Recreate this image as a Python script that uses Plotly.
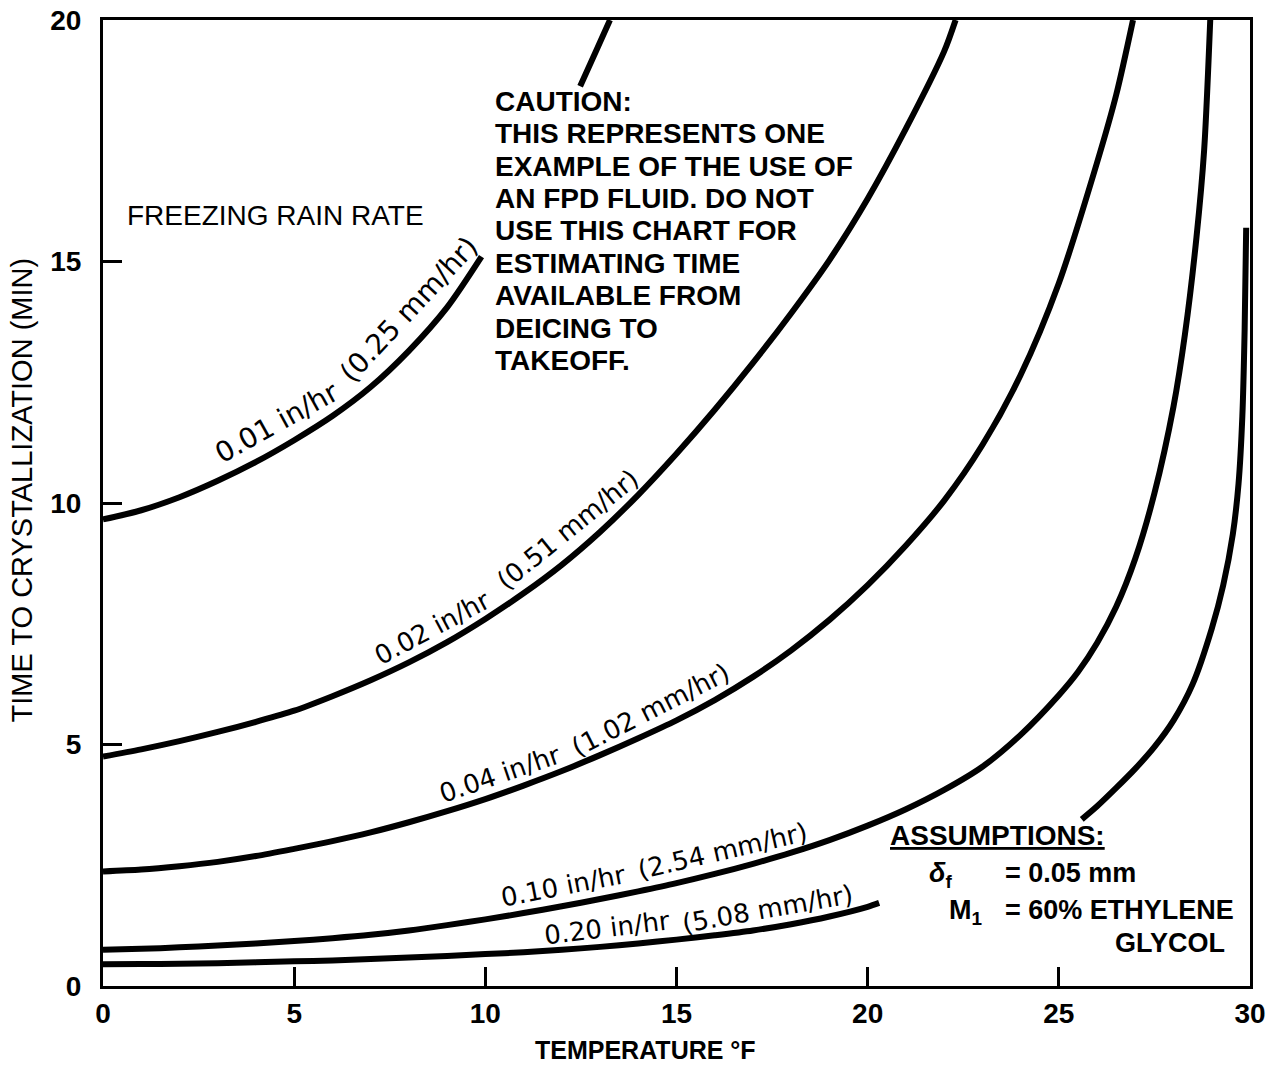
import plotly.graph_objects as go

# ---- data ----
# Temperature (°F) vs time to crystallization (min); None marks where the
# printed curve is interrupted by a text block.
temp_001 = [0, 1, 2, 3, 4, 5, 6, 7, 8, 9, 9.9, None, 12.48, 12.92, 13.26]
time_001 = [9.66, 9.85, 10.12, 10.46, 10.85, 11.3, 11.8, 12.4, 13.15, 14.05, 15.1, None, 18.63, 19.4, 20.0]

temp_002 = [0, 1, 2, 3, 4, 5, 6, 7, 8, 9, 10, 11, 12, 13, 14, 15, 16, 17, 18, 19, 20, 21, 22, 22.3]
time_002 = [4.75, 4.9, 5.07, 5.26, 5.47, 5.7, 6.0, 6.33, 6.7, 7.12, 7.6, 8.13, 8.72, 9.4, 10.17,
            11.02, 11.93, 12.9, 13.93, 15.03, 16.3, 17.75, 19.35, 20.0]

temp_004 = [0, 1, 2, 3, 4, 5, 6, 7, 8, 9, 10, 11, 12, 13, 14, 15, 16, 17, 18, 19, 20, 21, 22,
            23, 24, 25, 26, 26.5, 26.94]
time_004 = [2.37, 2.41, 2.48, 2.57, 2.69, 2.84, 3.0, 3.18, 3.39, 3.62, 3.87, 4.15, 4.45, 4.78,
            5.13, 5.5, 5.92, 6.4, 6.95, 7.58, 8.3, 9.12, 10.05, 11.2, 12.65, 14.55, 17.05, 18.45, 20.0]

temp_010 = [0, 1, 2, 3, 4, 5, 6, 7, 8, 9, 10, 11, 12, 13, 14, 15, 16, 17, 18, 19, 20, 21, 22,
            23, 24, 25, 25.5, 26, 26.5, 27, 27.5, 28, 28.3, 28.6, 28.8, 28.96]
time_010 = [0.75, 0.77, 0.8, 0.84, 0.88, 0.93, 0.99, 1.06, 1.15, 1.26, 1.38, 1.51, 1.65, 1.8,
            1.96, 2.13, 2.32, 2.53, 2.76, 3.02, 3.32, 3.66, 4.06, 4.54, 5.2, 6.02, 6.5, 7.1,
            7.85, 8.85, 10.2, 12.0, 13.5, 15.5, 17.3, 20.0]

temp_020 = [0, 1, 2, 3, 4, 5, 6, 7, 8, 9, 10, 11, 12, 13, 14, 15, 16, 17, 18, 19, 20, 20.3, None,
            25.6, 26, 26.5, 27, 27.5, 28, 28.5, 29, 29.3, 29.55, 29.7, 29.8, 29.86, 29.9]
time_020 = [0.45, 0.455, 0.46, 0.47, 0.49, 0.51, 0.53, 0.56, 0.59, 0.62, 0.66, 0.7, 0.75, 0.81,
            0.88, 0.96, 1.05, 1.15, 1.28, 1.44, 1.64, 1.72, None,
            3.45, 3.72, 4.1, 4.5, 4.95, 5.5, 6.25, 7.4, 8.3, 9.35, 10.4, 11.8, 13.6, 15.7]

x_ticks = [0, 5, 10, 15, 20, 25, 30]
y_ticks = [0, 5, 10, 15, 20]

curve_label_parts = [
    ("0.01 in/hr", "(0.25 mm/hr)"),
    ("0.02 in/hr", "(0.51 mm/hr)"),
    ("0.04 in/hr", "(1.02 mm/hr)"),
    ("0.10 in/hr", "(2.54 mm/hr)"),
    ("0.20 in/hr", "(5.08 mm/hr)"),
]

caution_lines = [
    "CAUTION:",
    "THIS REPRESENTS ONE",
    "EXAMPLE OF THE USE OF",
    "AN FPD FLUID. DO NOT",
    "USE THIS CHART FOR",
    "ESTIMATING TIME",
    "AVAILABLE FROM",
    "DEICING TO",
    "TAKEOFF.",
]

FONT = "Liberation Sans"
LABEL_FONT = "DejaVu Sans"

fig = go.Figure()
for tx, ty in [(temp_001, time_001), (temp_002, time_002), (temp_004, time_004),
               (temp_010, time_010), (temp_020, time_020)]:
    fig.add_trace(go.Scatter(
        x=tx, y=ty, mode="lines", connectgaps=False,
        line=dict(color="black", width=6, shape="spline", smoothing=0.8),
        showlegend=False, hoverinfo="skip"))

annotations = []

# curve labels: (x, y, angle, size) for each of the two parts
label_pos = [
    [(4.55, 11.66, -29, 28), (8.0, 14.0, -47, 28)],
    [(8.6, 7.42, -28, 26), (12.14, 9.45, -39, 26)],
    [(10.39, 4.38, -19, 26), (14.31, 5.72, -27, 26)],
    [(12.03, 2.08, -11, 26), (16.2, 2.8, -13, 26)],
    [(13.18, 1.2, -7, 26), (17.37, 1.6, -10, 26)],
]
for parts, poss in zip(curve_label_parts, label_pos):
    for txt, (lx, ly, ang, fs) in zip(parts, poss):
        annotations.append(dict(
            x=lx, y=ly, xref="x", yref="y", text=txt, showarrow=False,
            textangle=ang, xanchor="center", yanchor="middle",
            font=dict(family=LABEL_FONT, size=fs, color="black")))

# caution block
for i, line in enumerate(caution_lines):
    annotations.append(dict(
        x=10.2, y=18.32 - i * 0.672, xref="x", yref="y", text=line,
        showarrow=False, xanchor="left", yanchor="middle",
        font=dict(family=FONT, size=28, color="black", weight="bold")))

annotations.append(dict(
    x=0.575, y=15.95, xref="x", yref="y", text="FREEZING RAIN RATE",
    showarrow=False, xanchor="left", yanchor="middle",
    font=dict(family=FONT, size=28, color="black")))

# assumptions block
assump = [
    ("<u>ASSUMPTIONS:</u>", 20.53, 3.11, 28),
    ("<i>δ</i><sub>f</sub>", 21.55, 2.3, 27),
    ("= 0.05 mm", 23.54, 2.34, 27),
    ("M<sub>1</sub>", 22.08, 1.54, 27),
    ("= 60% ETHYLENE", 23.54, 1.58, 27),
    ("GLYCOL", 26.42, 0.89, 27),
]
for txt, ax, ay, fs in assump:
    annotations.append(dict(
        x=ax, y=ay, xref="x", yref="y", text=txt, showarrow=False,
        xanchor="left", yanchor="middle",
        font=dict(family=FONT, size=fs, color="black", weight="bold")))

# axis titles
annotations.append(dict(
    x=-0.0706, y=0.513, xref="paper", yref="paper",
    text="TIME TO CRYSTALLIZATION (MIN)", showarrow=False, textangle=-90,
    xanchor="center", yanchor="middle",
    font=dict(family=FONT, size=29, color="black")))
annotations.append(dict(
    x=0.473, y=-0.066, xref="paper", yref="paper",
    text="TEMPERATURE °F", showarrow=False,
    xanchor="center", yanchor="middle",
    font=dict(family=FONT, size=25, color="black", weight="bold")))

axis_common = dict(
    showgrid=False, zeroline=False, showline=True, linecolor="black",
    linewidth=3, mirror=True, ticks="inside", ticklen=19, tickwidth=3,
    tickcolor="black", ticklabeloverflow="allow", automargin=False,
    tickfont=dict(family=FONT, size=28, color="black", weight="bold"),
)

fig.update_layout(
    width=1268, height=1071,
    margin=dict(l=103, r=18, t=20, b=85),
    plot_bgcolor="white", paper_bgcolor="white",
    xaxis=dict(range=[0, 30], tickvals=x_ticks, **axis_common),
    yaxis=dict(range=[0, 20], tickvals=y_ticks, ticklabelstandoff=13, **axis_common),
    annotations=annotations,
)

# place the figure flush with the top-left corner of the page, no modebar
fig.write_html("out.html", config={"displayModeBar": False},
               post_script="document.body.style.margin='0';")
